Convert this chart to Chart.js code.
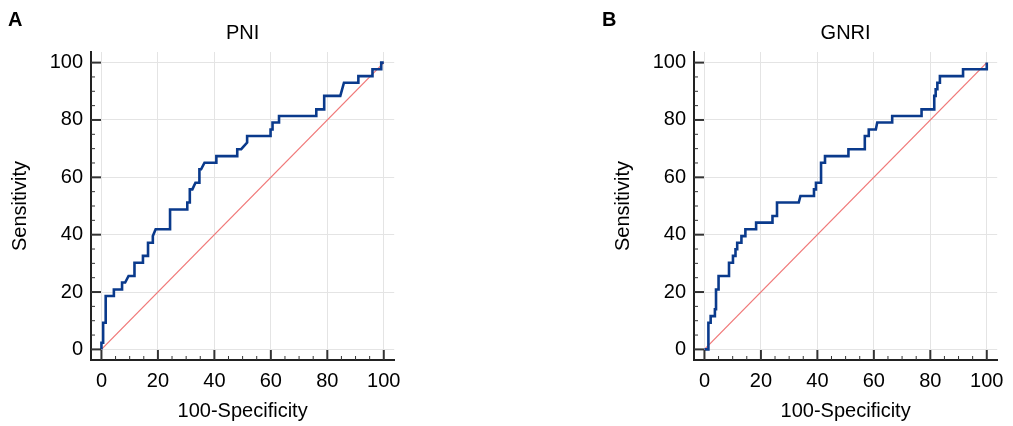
<!DOCTYPE html>
<html lang="en">
<head>
<meta charset="UTF-8">
<title>PNI / GNRI ROC</title>
<script src="https://cdn.jsdelivr.net/npm/chart.js@4.4.0/dist/chart.umd.min.js"></script>
<style>
    body { margin: 0; background: #fff; width: 1013px; height: 426px; overflow: hidden; position: relative;
           font-family: "Liberation Sans", Arial, sans-serif; }
    .panel { position: absolute; top: 0; width: 410px; height: 426px; }
    .letter { position: absolute; top: 9px; font-weight: bold; font-size: 20px; line-height: 1; }
</style>
</head>
<body>
<div class="panel" style="left:0"><canvas id="pni" width="410" height="426"></canvas></div>
<div class="panel" style="left:603px"><canvas id="gnri" width="410" height="426"></canvas></div>
<div class="letter" style="left:8px">A</div>
<div class="letter" style="left:602px">B</div>
<script>
    // ROC curve vertices (100-Specificity, Sensitivity)
    const pniX = [0, 0, 0.6, 0.6, 1.5, 1.5, 4.4, 4.4, 7.3, 7.3, 8.4, 9.6, 11.7, 11.7, 14.7, 14.7, 16.5, 16.5,
        18.2, 18.2, 19.2, 24.3, 24.3, 30.4, 30.4, 31.3, 31.3, 32.2, 33.3, 34.7, 34.7, 35.3, 36.5, 40.7, 40.7,
        48.1, 48.1, 49.5, 51.6, 51.6, 59.9, 59.9, 60.6, 60.6, 62.9, 62.9, 76.1, 76.1, 78.9, 78.9, 84.6, 85.9,
        91, 91, 96, 96, 99.1, 99.1, 100];
    const pniY = [0, 2.3, 2.3, 9.3, 9.3, 18.6, 18.6, 20.9, 20.9, 23.3, 23.3, 25.6, 25.6, 30.2, 30.2, 32.6, 32.6, 37.2,
        37.2, 39.5, 41.9, 41.9, 48.8, 48.8, 51.2, 51.2, 55.8, 55.8, 58.1, 58.1, 62.8, 62.8, 65.1, 65.1, 67.4,
        67.4, 69.8, 69.8, 72.1, 74.4, 74.4, 76.7, 76.7, 79.1, 79.1, 81.4, 81.4, 83.7, 83.7, 88.4, 88.4, 93,
        93, 95.3, 95.3, 97.7, 97.7, 100, 100];

    const gnriX = [0, 1.4, 1.4, 2.2, 2.2, 3.7, 3.7, 4.1, 4.1, 5, 5, 8.7, 8.7, 10.1, 10.1, 11, 11, 11.6, 11.6,
        13.1, 13.1, 14.5, 14.5, 18.3, 18.3, 24.1, 24.1, 25.7, 25.7, 33.4, 34, 38.8, 38.8, 39.5, 39.5, 41.3, 41.3,
        42.7, 42.7, 51, 51, 56.8, 56.8, 58.2, 58.2, 60.7, 61.2, 66.5, 66.5, 76.9, 76.9, 81.4, 81.4, 81.9, 81.9,
        82.5, 82.5, 83.4, 83.4, 91.6, 91.6, 100, 100];
    const gnriY = [0, 0, 9.3, 9.3, 11.6, 11.6, 14, 14, 20.9, 20.9, 25.6, 25.6, 30.2, 30.2, 32.6, 32.6, 34.9, 34.9, 37.2,
        37.2, 39.5, 39.5, 41.9, 41.9, 44.2, 44.2, 46.5, 46.5, 51.2, 51.2, 53.5, 53.5, 55.8, 55.8, 58.1, 58.1, 65.1,
        65.1, 67.4, 67.4, 69.8, 69.8, 74.4, 74.4, 76.7, 76.7, 79.1, 79.1, 81.4, 81.4, 83.7, 83.7, 88.4, 88.4, 90.7,
        90.7, 93, 93, 95.3, 95.3, 97.7, 97.7, 100];

    // reference diagonal
    const diagX = [0, 100];
    const diagY = [0, 100];

    const majorTicks = [0, 20, 40, 60, 80, 100];
    const minorTicks = [0, 5, 10, 15, 20, 25, 30, 35, 40, 45, 50, 55, 60, 65, 70, 75, 80, 85, 90, 95, 100];

    const FONT = '"Liberation Sans", Arial, sans-serif';
    Chart.defaults.font.family = FONT;
    Chart.defaults.color = '#000';

    function pts(xs, ys) {
        return xs.map((v, i) => ({ x: v, y: ys[i] }));
    }

    // ticks point inward from the offset axes
    const innerTicks = {
        id: 'innerTicks',
        afterDraw(chart) {
            const { ctx, chartArea, scales: { x, y } } = chart;
            ctx.save();
            ctx.strokeStyle = '#333';
            minorTicks.forEach(v => {
                const major = majorTicks.includes(v);
                const len = major ? 10 : 4;
                ctx.lineWidth = major ? 2 : 1;
                const px = x.getPixelForValue(v);
                ctx.beginPath();
                ctx.moveTo(px, chartArea.bottom);
                ctx.lineTo(px, chartArea.bottom - len);
                ctx.stroke();
                const py = y.getPixelForValue(v);
                ctx.beginPath();
                ctx.moveTo(chartArea.left, py);
                ctx.lineTo(chartArea.left + len, py);
                ctx.stroke();
            });
            ctx.restore();
        }
    };

    function axis(title, isY) {
        return {
            type: 'linear',
            min: -3.7,
            max: 103.7,
            afterBuildTicks: s => { s.ticks = majorTicks.map(v => ({ value: v })); },
            afterFit: s => { if (isY) s.width = 91; else s.height = 66; },
            grid: { color: '#e4e4e4', lineWidth: 1, drawTicks: false },
            border: { display: true, color: '#222', width: 2 },
            ticks: { color: '#000', font: { size: 20 }, padding: isY ? 8 : 9 },
            title: {
                display: true, text: title, color: '#000', font: { size: 20 },
                padding: isY ? { top: 8, bottom: 0 } : { top: 0, bottom: 3 }
            }
        };
    }

    function makeChart(id, name, xs, ys) {
        new Chart(document.getElementById(id), {
            type: 'line',
            data: {
                datasets: [{
                    data: pts(xs, ys),
                    borderColor: '#0a3a8c',
                    borderWidth: 2.6,
                    pointRadius: 0,
                    tension: 0
                }, {
                    data: pts(diagX, diagY),
                    borderColor: '#f07878',
                    borderWidth: 1.3,
                    pointRadius: 0
                }]
            },
            options: {
                responsive: false,
                animation: false,
                layout: { padding: { left: 0, right: 10, top: 0, bottom: 0 } },
                plugins: {
                    legend: { display: false },
                    tooltip: { enabled: false },
                    title: {
                        display: true, text: name, fullSize: false, color: '#000',
                        font: { size: 20, weight: 'normal' },
                        padding: { top: 21, bottom: 7 }
                    }
                },
                scales: {
                    x: axis('100-Specificity', false),
                    y: axis('Sensitivity', true)
                }
            },
            plugins: [innerTicks]
        });
    }

    makeChart('pni', 'PNI', pniX, pniY);
    makeChart('gnri', 'GNRI', gnriX, gnriY);
</script>
</body>
</html>
